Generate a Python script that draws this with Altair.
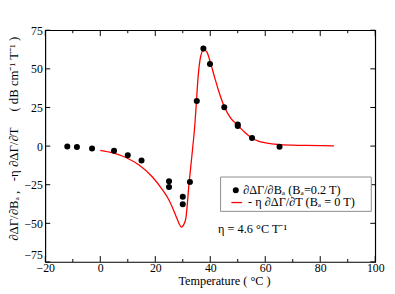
import altair as alt
import pandas as pd

# measured points (filled circles)
pt_T = [-12, -8.5, -3, 5, 10, 15, 25, 25, 30, 30, 32.6, 35.1, 37.5, 39.9, 45.1, 50, 50, 55.2, 65.2]
pt_Y = [-0.3, -0.6, -1.5, -3, -5.9, -9.3, -22.7, -26.5, -32.8, -37.6, -23.3, 29.2, 63.1, 53.1, 25.2, 14, 13, 5.2, -0.4]

# red curve  -eta dDG/dT
cv_T = [0, 4.6, 9.3, 14.1, 18.8, 22.3, 25.3, 27, 27.8, 28.6, 29.5, 30.3, 31.1, 32.3, 33.5, 34.4, 34.9,
        35.5, 36.5, 37.65, 38.8, 40, 41.5, 43, 45.1, 47.5, 50, 52.5, 55.2, 57.5, 59.7, 65, 70, 75, 85]
cv_Y = [-2.7, -4.4, -7.4, -12.3, -19.7, -27.5, -36, -43, -46.5, -50, -52.5, -51, -47, -24, -3, 14, 27,
        43, 58, 62.5, 60.8, 54.5, 45, 36, 25.5, 18, 13.5, 9, 5.2, 3.2, 2.2, 1, 0.6, 0.4, 0.2]

x_major = [-20, 0, 20, 40, 60, 80, 100]
x_minor = [-10, 10, 30, 50, 70, 90]
y_major = [-75, -50, -25, 0, 25, 50, 75]

FONT = "Liberation Serif, Times New Roman, serif"
W, H = 336, 236

pts = pd.DataFrame({"x": pt_T, "y": pt_Y})
cv = pd.DataFrame({"x": cv_T, "y": cv_Y})

xs = alt.Scale(domain=[-20, 100], nice=False, zero=False)
ys = alt.Scale(domain=[-75, 75], nice=False, zero=False)

nb = "\u00a0"
ytitle = f"∂ΔΓ/∂Bₐ{nb},{nb}{nb}{nb}-η ∂ΔΓ/∂T{nb}{nb}{nb}{nb}{nb}({nb}dB cm⁻¹ T⁻¹{nb})"

XAX = alt.Axis(
    values=x_major, title="Temperature ( °C )", titleFont=FONT, titleFontSize=12.5,
    titleFontWeight="normal", titleX=182, titleY=19, titleBaseline="middle",
    labelFont=FONT, labelFontSize=12, labelColor="black", labelPadding=1,
    labelOverlap=False, ticks=False, domain=False, grid=False, labelFlush=False)
YAX = alt.Axis(
    values=y_major, title=ytitle, titleFont=FONT, titleFontSize=13,
    titleFontWeight="normal", titleX=-32, titleY=110, titleAngle=270,
    titleAlign="center", titleBaseline="middle",
    labelFont=FONT, labelFontSize=12, labelColor="black", labelPadding=3,
    labelBaseline={"condition": {"test": "datum.value === -75", "value": "bottom"}, "value": "middle"},
    labelOverlap=False, ticks=False, domain=False, grid=False, labelFlush=False)

X = lambda: alt.X("x:Q", scale=xs, axis=XAX)
Y = lambda: alt.Y("y:Q", scale=ys, axis=YAX)

curve = alt.Chart(cv).mark_line(color="#ff0000", strokeWidth=1.3, interpolate="monotone").encode(
    x=X(), y=Y())

points = alt.Chart(pts).mark_point(filled=True, color="black", size=38, opacity=1).encode(
    x=X(), y=Y())

xmaj = pd.DataFrame({"x": x_major})
xmin = pd.DataFrame({"x": x_minor})
ymaj = pd.DataFrame({"y": y_major})

tick_layers = []
for df, ln in [(xmaj, 6), (xmin, 3)]:
    tick_layers.append(alt.Chart(df).mark_rule(color="black", strokeWidth=1).encode(
        x=X(), y=alt.value(H), y2=alt.value(H - ln)))
    tick_layers.append(alt.Chart(df).mark_rule(color="black", strokeWidth=1).encode(
        x=X(), y=alt.value(0), y2=alt.value(ln)))
tick_layers.append(alt.Chart(ymaj).mark_rule(color="black", strokeWidth=1).encode(
    y=Y(), x=alt.value(0), x2=alt.value(5)))
tick_layers.append(alt.Chart(ymaj).mark_rule(color="black", strokeWidth=1).encode(
    y=Y(), x=alt.value(W), x2=alt.value(W - 5)))

one = pd.DataFrame({"a": [0]})
leg_box = alt.Chart(one).mark_rect(fill="white", stroke="#8c8c8c", strokeWidth=1).encode(
    x=alt.value(178.5), x2=alt.value(332), y=alt.value(149.5), y2=alt.value(184.5))
leg_dot = alt.Chart(one).mark_point(filled=True, color="black", size=38, opacity=1).encode(
    x=alt.value(194), y=alt.value(163))
leg_line = alt.Chart(one).mark_rule(color="#ff0000", strokeWidth=1.3).encode(
    x=alt.value(189.5), x2=alt.value(200.5), y=alt.value(175.5))
leg_t1 = alt.Chart(one).mark_text(text="∂ΔΓ/∂Bₐ (Bₐ=0.2 T)", font=FONT, fontSize=12.5, align="left",
                                  baseline="middle", color="black").encode(
    x=alt.value(201.5), y=alt.value(163))
leg_t2 = alt.Chart(one).mark_text(text="- η ∂ΔΓ/∂T (Bₐ = 0 T)", font=FONT, fontSize=12.5, align="left",
                                  baseline="middle", color="black").encode(
    x=alt.value(206.5), y=alt.value(175.5))
eta = alt.Chart(one).mark_text(text="η =  4.6 °C T⁻¹", font=FONT, fontSize=12.5, align="left",
                               baseline="middle", color="black").encode(
    x=alt.value(176), y=alt.value(202.5))

chart = alt.layer(curve, points, *tick_layers, leg_box, leg_dot, leg_line, leg_t1, leg_t2, eta).properties(
    width=W, height=H, autosize="none",
    padding={"left": 38, "top": 20, "right": 12, "bottom": 30},
    background="white",
).configure_view(stroke="black", strokeWidth=1.2).configure_axis(labelOverlap=False)

chart.save("out.html", embed_options={"renderer": "svg", "actions": False})
